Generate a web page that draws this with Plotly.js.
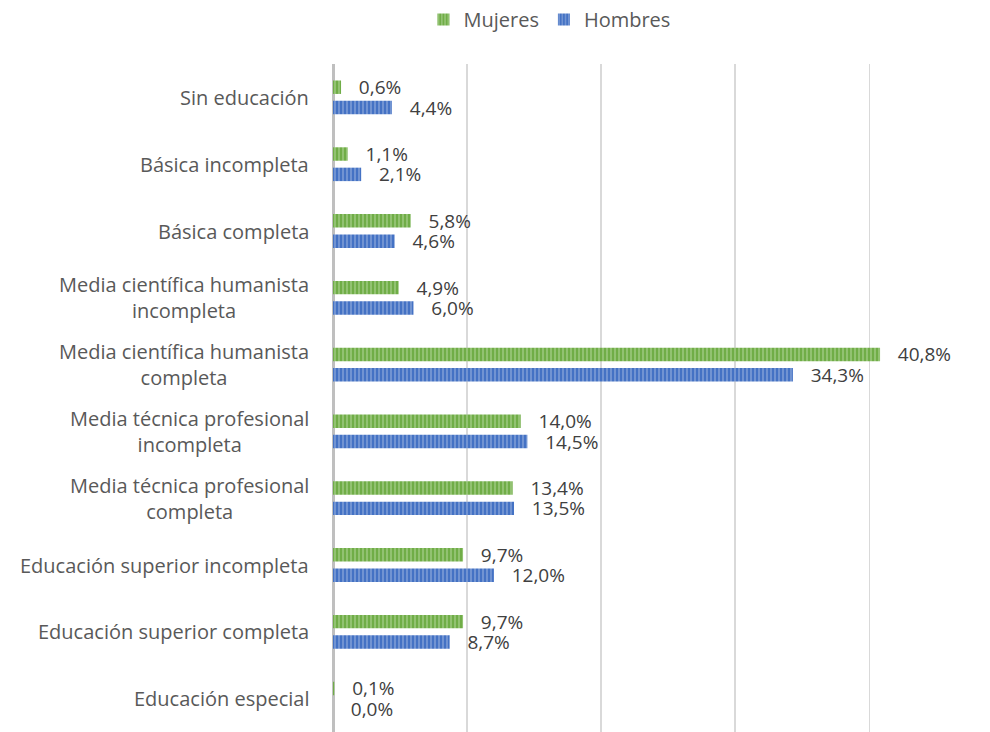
<!DOCTYPE html>
<html>
<head>
<meta charset="utf-8">
<script src="https://cdn.plot.ly/plotly-3.0.1.min.js"></script>
<style>html,body{margin:0;padding:0;background:#fff;}#chart{width:990px;height:732px;}</style>
</head>
<body>
<div id="chart"></div>
<script>
const categories = [
  "Sin educación",
  "Básica incompleta",
  "Básica completa",
  "Media científica humanista incompleta",
  "Media científica humanista completa",
  "Media técnica profesional incompleta",
  "Media técnica profesional completa",
  "Educación superior incompleta",
  "Educación superior completa",
  "Educación especial"
];
const categoryLabels = [
  "Sin educación",
  "Básica incompleta",
  "Básica completa",
  "Media científica humanista<br>incompleta",
  "Media científica humanista<br>completa",
  "Media técnica profesional<br>incompleta",
  "Media técnica profesional<br>completa",
  "Educación superior incompleta",
  "Educación superior completa",
  "Educación especial"
];
const mujeres = [0.6, 1.1, 5.8, 4.9, 40.8, 14.0, 13.4, 9.7, 9.7, 0.1];
const hombres = [4.4, 2.1, 4.6, 6.0, 34.3, 14.5, 13.5, 12.0, 8.7, 0.0];

const fmt = v => "\u00a0\u00a0\u00a0" + v.toFixed(1).replace(".", ",") + "%";

const FONT = "Open Sans, DejaVu Sans, sans-serif";
const FS = 20;
const LFS = 19;

const traces = [
  {
    type: "bar", orientation: "h", name: "Mujeres",
    y: categories, x: mujeres,
    text: mujeres.map(fmt), textposition: "outside", cliponaxis: false, constraintext: "none",
    textfont: {family: FONT, size: LFS, color: "#404040"},
    marker: {color: "#70ad47", pattern: {shape: "|", fgcolor: "#a9d18e", bgcolor: "#70ad47", size: 4, solidity: 0.3}},
    hoverinfo: "none"
  },
  {
    type: "bar", orientation: "h", name: "Hombres",
    y: categories, x: hombres,
    text: hombres.map(fmt), textposition: "outside", cliponaxis: false, constraintext: "none",
    textfont: {family: FONT, size: LFS, color: "#404040"},
    marker: {color: "#4472c4", pattern: {shape: "|", fgcolor: "#8faadc", bgcolor: "#4472c4", size: 4, solidity: 0.3}},
    hoverinfo: "none"
  }
];

const annotations = categories.map((c, i) => ({
  xref: "paper", yref: "y", x: 0, y: c, xanchor: "right", yanchor: "middle",
  xshift: -22, align: "center", showarrow: false,
  text: categoryLabels[i],
  font: {family: FONT, size: FS, color: "#595959"}
}));

const layout = {
  width: 990, height: 732,
  margin: {l: 333, r: 0, t: 64, b: 0},
  paper_bgcolor: "#ffffff", plot_bgcolor: "#ffffff",
  font: {family: FONT, size: FS, color: "#595959"},
  barmode: "group", bargap: 0.39, bargroupgap: 0.34,
  showlegend: true,
  legend: {orientation: "h", x: 0.555, xref: "container", xanchor: "center", y: 1, yref: "container", yanchor: "top",
           font: {family: FONT, size: FS, color: "#595959"}, traceorder: "normal"},
  xaxis: {range: [0, 49], dtick: 10, tick0: 0, showticklabels: false, showgrid: true,
          gridcolor: "#d9d9d9", gridwidth: 1.5, zeroline: true, zerolinecolor: "#bfbfbf",
          zerolinewidth: 3, showline: false, fixedrange: true},
  yaxis: {type: "category", autorange: "reversed", showgrid: false, zeroline: false,
          showticklabels: false, ticks: "", automargin: false},
  annotations: annotations
};

Plotly.newPlot("chart", traces, layout, {displayModeBar: false, staticPlot: true});
</script>
</body>
</html>
